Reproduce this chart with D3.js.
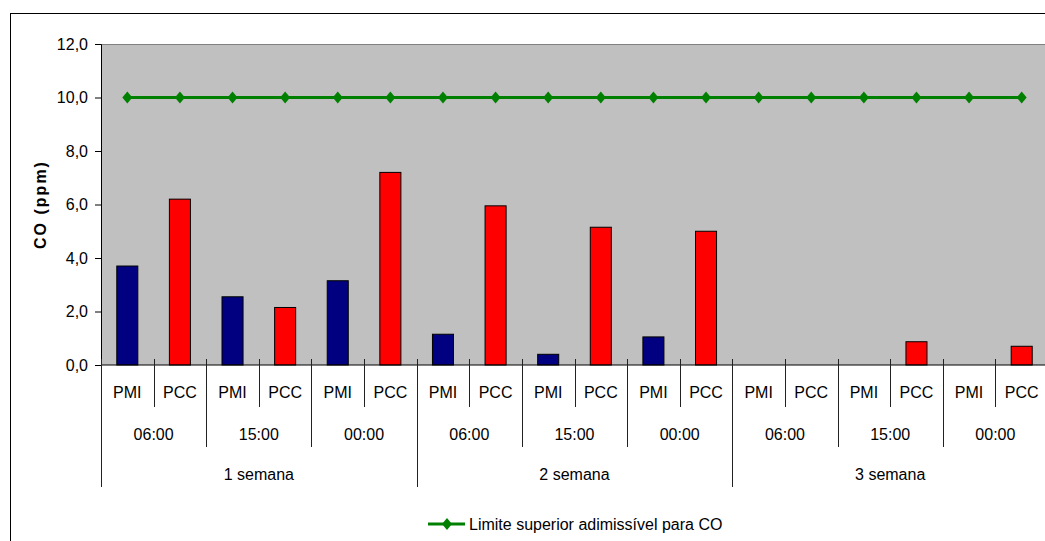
<!DOCTYPE html>
<html>
<head>
<meta charset="utf-8">
<script src="https://cdn.jsdelivr.net/npm/d3@7"></script>
<style>
  html, body { margin: 0; padding: 0; background: #fff; }
  svg { display: block; font-family: "Liberation Sans", Arial, sans-serif; }
</style>
</head>
<body>
<svg id="chart" width="1045" height="541"></svg>
<script>
// ---- data ----
const weeks = ["1 semana", "2 semana", "3 semana"];
const hours = ["06:00", "15:00", "00:00"];
const points = ["PMI", "PCC"];
const coValues = [3.7, 6.2, 2.55, 2.15, 3.15, 7.2,
                  1.15, 5.95, 0.4, 5.15, 1.05, 5.0,
                  0, 0, 0, 0.87, 0, 0.7];
const limitValues = [10, 10, 10, 10, 10, 10, 10, 10, 10, 10, 10, 10, 10, 10, 10, 10, 10, 10];
const yTicks = [0, 2, 4, 6, 8, 10, 12];
const legendLabel = "Limite superior adimissível para CO";
const yTitle = "CO (ppm)";

// ---- build categories ----
const cats = [];
weeks.forEach((w, wi) => hours.forEach((h, hi) => points.forEach((p, pi) => {
  cats.push({ id: cats.length, week: w, hour: h, point: p, wi, hi, pi });
})));
cats.forEach((c, i) => { c.value = coValues[i]; c.limit = limitValues[i]; });

const svg = d3.select("#chart");
const pLeft = 101, pRight = 1048, pTop = 44, pBottom = 365;

const x = d3.scaleBand().domain(cats.map(c => c.id)).range([pLeft, pRight])
  .paddingInner(0.6).paddingOuter(0.3);
const step = x.step();
const y = d3.scaleLinear().domain([0, 12]).range([pBottom, pTop]);

// outer chart border
svg.append("rect").attr("x", 10.5).attr("y", 13.5).attr("width", 1100).attr("height", 600)
  .attr("fill", "#fff").attr("stroke", "#000").attr("stroke-width", 1);

// plot area
svg.append("rect").attr("x", pLeft).attr("y", pTop).attr("width", pRight - pLeft).attr("height", pBottom - pTop)
  .attr("fill", "#C0C0C0");
svg.append("line").attr("x1", pLeft).attr("x2", pRight).attr("y1", pTop + 0.5).attr("y2", pTop + 0.5)
  .attr("stroke", "#808080");

// bars
const barColor = d => d.point === "PMI" ? "#000080" : "#FF0000";
svg.append("g").selectAll("rect").data(cats.filter(c => c.value > 0)).join("rect")
  .attr("x", d => x(d.id))
  .attr("y", d => y(d.value))
  .attr("width", x.bandwidth())
  .attr("height", d => y(0) - y(d.value))
  .attr("fill", barColor)
  .attr("stroke", "#000").attr("stroke-width", 1);

// y axis
const yAxis = d3.axisLeft(y).tickValues(yTicks).tickSize(6).tickPadding(7)
  .tickFormat(d => d3.format(".1f")(d).replace(".", ","));
const gy = svg.append("g").attr("transform", `translate(${pLeft},0)`).call(yAxis);
gy.selectAll("text").attr("font-size", 16).attr("fill", "#000").attr("font-family", "Liberation Sans, Arial, sans-serif");
gy.select(".domain").attr("stroke", "#000");
gy.selectAll(".tick line").attr("stroke", "#000");

// x axis baseline
svg.append("line").attr("x1", pLeft).attr("x2", pRight).attr("y1", pBottom).attr("y2", pBottom)
  .attr("stroke", "#000");

// multi-level x axis separators
const gx = svg.append("g");
const boundaries = d3.range(cats.length + 1);
gx.selectAll("line").data(boundaries).join("line")
  .attr("x1", i => Math.round(pLeft + step * i) + 0.5)
  .attr("x2", i => Math.round(pLeft + step * i) + 0.5)
  .attr("y1", 359)
  .attr("y2", i => i % 6 === 0 ? 487 : (i % 2 === 0 ? 447 : 407))
  .attr("stroke", "#222");

// level 1 labels
gx.append("g").selectAll("text").data(cats).join("text")
  .attr("x", d => x(d.id) + x.bandwidth() / 2)
  .attr("y", 398)
  .attr("text-anchor", "middle").attr("font-size", 16).attr("fill", "#000")
  .text(d => d.point);

// level 2 labels
const hourGroups = d3.range(weeks.length * hours.length);
gx.append("g").selectAll("text").data(hourGroups).join("text")
  .attr("x", g => pLeft + step * (g * 2 + 1))
  .attr("y", 440)
  .attr("text-anchor", "middle").attr("font-size", 16).attr("fill", "#000")
  .text(g => hours[g % hours.length]);

// level 3 labels
gx.append("g").selectAll("text").data(weeks).join("text")
  .attr("x", (w, i) => pLeft + step * (i * 6 + 3))
  .attr("y", 480)
  .attr("text-anchor", "middle").attr("font-size", 16).attr("fill", "#000")
  .text(w => w);

// limit line
const cx = d => x(d.id) + x.bandwidth() / 2;
svg.append("path").datum(cats)
  .attr("d", d3.line().x(cx).y(d => y(d.limit)))
  .attr("fill", "none").attr("stroke", "#008000").attr("stroke-width", 3);
const diamond = "M0,-6L5,0L0,6L-5,0Z";
svg.append("g").selectAll("path").data(cats).join("path")
  .attr("transform", d => `translate(${cx(d)},${y(d.limit)})`)
  .attr("d", diamond).attr("fill", "#008000");

// y title
svg.append("text")
  .attr("transform", `translate(46,${(pTop + pBottom) / 2}) rotate(-90)`)
  .attr("text-anchor", "middle").attr("font-size", 16).attr("font-weight", "bold")
  .attr("letter-spacing", 2).attr("fill", "#000")
  .text(yTitle);

// legend
const lg = svg.append("g");
lg.append("line").attr("x1", 428).attr("x2", 465).attr("y1", 524).attr("y2", 524)
  .attr("stroke", "#008000").attr("stroke-width", 3);
lg.append("path").attr("transform", "translate(447,524)").attr("d", diamond).attr("fill", "#008000");
lg.append("text").attr("x", 469).attr("y", 530).attr("font-size", 16).attr("fill", "#000")
  .text(legendLabel);
</script>
</body>
</html>
